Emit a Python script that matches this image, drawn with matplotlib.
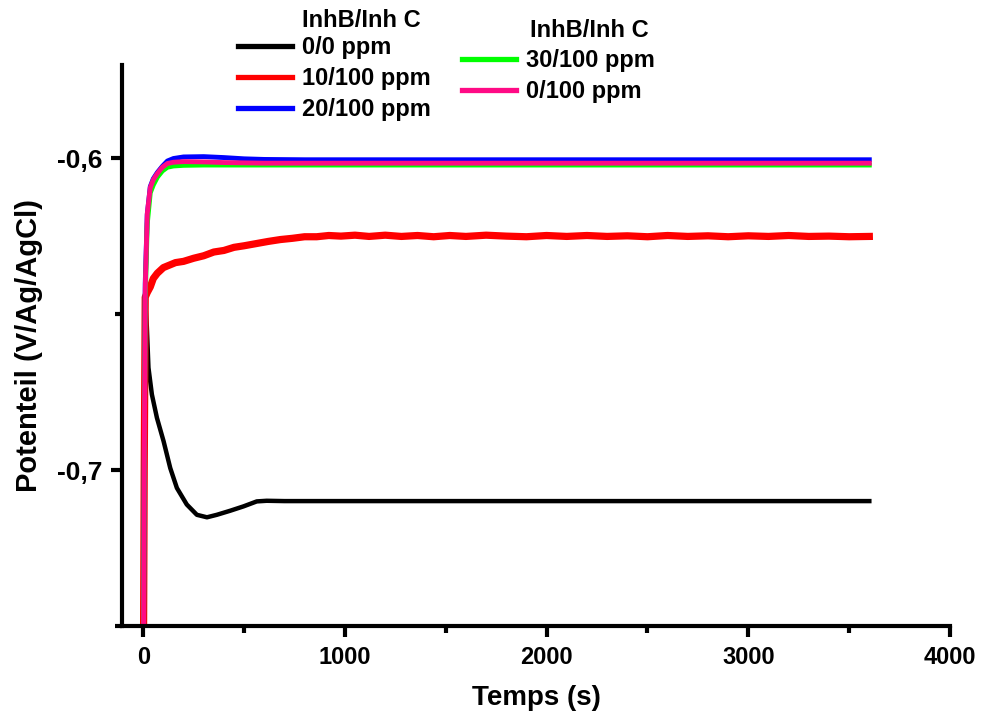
import numpy as np
import matplotlib
matplotlib.use("Agg")
import matplotlib.pyplot as plt
from matplotlib.lines import Line2D
from matplotlib.ticker import FixedLocator

plt.rcParams['font.family'] = ['Liberation Sans', 'DejaVu Sans']
plt.rcParams['font.weight'] = 'bold'

# 0/0 ppm
t_black = [0, 5, 8, 12, 18, 26, 43, 68, 101, 134, 167, 216, 266, 316, 365, 431, 497,
           563, 612, 700, 1000, 1500, 2000, 2500, 3000, 3600]
v_black = [-0.78, -0.70, -0.660, -0.648, -0.654, -0.6671, -0.6757, -0.6832, -0.6907,
           -0.6993, -0.7057, -0.7110, -0.7143, -0.7151, -0.7143, -0.7130, -0.7116,
           -0.7100, -0.7098, -0.7099, -0.7099, -0.7099, -0.7099, -0.7099, -0.7099, -0.7099]

# 10/100 ppm
t_red = [0, 5, 10, 20, 35, 50, 70, 100, 130, 160, 200, 250, 300, 350, 400, 450, 500, 560,
         620, 680, 740, 800, 860, 920, 980, 1050, 1120, 1200, 1280, 1360, 1440, 1520, 1600,
         1700, 1800, 1900, 2000, 2100, 2200, 2300, 2400, 2500, 2600, 2700, 2800, 2900, 3000,
         3100, 3200, 3300, 3400, 3500, 3600]
v_red = [-0.78, -0.70, -0.6445, -0.6430, -0.6412, -0.6385, -0.6368, -0.6350, -0.6342,
         -0.6334, -0.6330, -0.6320, -0.6312, -0.6300, -0.6295, -0.6285, -0.6280, -0.6273,
         -0.6266, -0.6260, -0.6256, -0.6251, -0.6251, -0.6247, -0.6249, -0.6246, -0.6250,
         -0.6246, -0.6250, -0.6247, -0.6251, -0.6247, -0.6250, -0.6246, -0.6249, -0.6251,
         -0.6247, -0.6250, -0.6247, -0.6250, -0.6248, -0.6251, -0.6247, -0.6250, -0.6248,
         -0.6251, -0.6248, -0.6250, -0.6247, -0.6250, -0.6249, -0.6251, -0.6250]

# 20/100, 30/100, 0/100 ppm
t_fast = [0, 5, 10, 20, 35, 50, 70, 95, 120, 150, 200, 300, 400, 500, 600, 800, 1000,
          1500, 2000, 2500, 3000, 3600]
v_blue = [-0.78, -0.70, -0.640, -0.618, -0.609, -0.6065, -0.6045, -0.6025, -0.6008,
          -0.6000, -0.5995, -0.5994, -0.5997, -0.6001, -0.6003, -0.6004, -0.6004, -0.6004,
          -0.6004, -0.6004, -0.6004, -0.6004]
v_green = [-0.78, -0.70, -0.645, -0.621, -0.611, -0.6085, -0.6060, -0.6040, -0.6028,
           -0.6024, -0.6022, -0.6021, -0.6021, -0.6021, -0.6021, -0.6021, -0.6021, -0.6021,
           -0.6021, -0.6021, -0.6021, -0.6021]
v_pink = [-0.78, -0.70, -0.642, -0.6177, -0.6093, -0.6068, -0.6048, -0.6028, -0.6016,
          -0.6012, -0.6010, -0.6011, -0.6013, -0.6014, -0.6015, -0.6015, -0.6015, -0.6015,
          -0.6015, -0.6015, -0.6015, -0.6015]

labels_left = ["0/0 ppm", "10/100 ppm", "20/100 ppm"]
labels_right = ["30/100 ppm", "0/100 ppm"]
legend_title = "InhB/Inh C"

c_black, c_red, c_blue, c_green, c_pink = "black", "#ff0000", "#0000ff", "#00ff00", "#ff0a85"

fig = plt.figure(figsize=(9.81, 7.18), dpi=100)
ax = fig.add_axes([0.1244, 0.128, 0.8440, 0.7815])

ax.plot(t_black, v_black, color=c_black, lw=3.2)
ax.plot(t_red, v_red, color=c_red, lw=5.2)
ax.plot(t_fast, v_blue, color=c_blue, lw=3.5)
ax.plot(t_fast, v_green, color=c_green, lw=3.5)
ax.plot(t_fast, v_pink, color=c_pink, lw=3.5)

ax.set_xlim(-105, 4000)
ax.set_ylim(-0.75, -0.57)
for s in ["top", "right"]:
    ax.spines[s].set_visible(False)
for s in ["left", "bottom"]:
    ax.spines[s].set_linewidth(3)

ax.xaxis.set_major_locator(FixedLocator([0, 1000, 2000, 3000, 4000]))
ax.xaxis.set_minor_locator(FixedLocator([500, 1500, 2500, 3500]))
ax.yaxis.set_major_locator(FixedLocator([-0.7, -0.6]))
ax.yaxis.set_minor_locator(FixedLocator([-0.75, -0.65]))
ax.set_yticklabels(["-0,7", "-0,6"])
ax.tick_params(which="major", direction="out", length=8, width=3, pad=6)
ax.tick_params(which="minor", direction="out", length=5, width=3)
ax.tick_params(axis="x", labelsize=17)
ax.tick_params(axis="y", labelsize=19)
for lab in ax.get_xticklabels() + ax.get_yticklabels():
    lab.set_fontweight("bold")

ax.set_xlabel("Temps (s)", fontsize=20, fontweight="bold", labelpad=12)
ax.set_ylabel("Potenteil (V/Ag/AgCl)", fontsize=21, fontweight="bold", labelpad=10)

h_left = [Line2D([], [], color=c, lw=3.8) for c in (c_black, c_red, c_blue)]
h_right = [Line2D([], [], color=c, lw=3.8) for c in (c_green, c_pink)]
leg1 = fig.legend(h_left, labels_left, loc="upper left", bbox_to_anchor=(0.2426, 0.950),
                  frameon=False, handlelength=2.3, handletextpad=0.4,
                  labelspacing=0.35, borderpad=0, borderaxespad=0,
                  prop={"weight": "bold", "size": 17})
leg2 = fig.legend(h_right, labels_right, loc="upper left", bbox_to_anchor=(0.471, 0.932),
                  frameon=False, handlelength=2.3, handletextpad=0.4,
                  labelspacing=0.35, borderpad=0, borderaxespad=0,
                  prop={"weight": "bold", "size": 17})
fig.text(0.308, 0.972, legend_title, fontsize=17, fontweight="bold", va="center")
fig.text(0.540, 0.958, legend_title, fontsize=17, fontweight="bold", va="center")

fig.savefig("out.png", dpi=100)
